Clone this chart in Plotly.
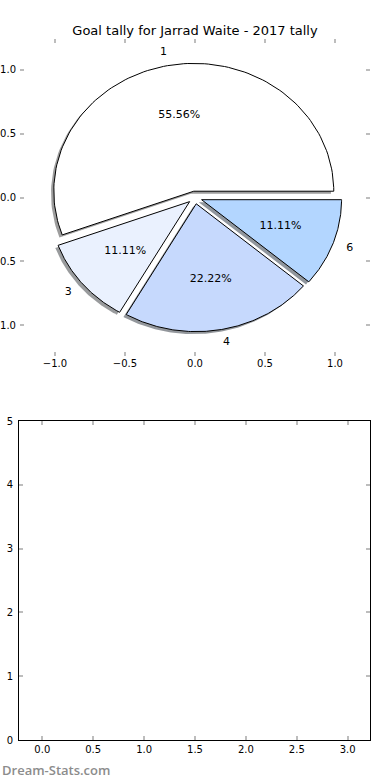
import numpy as np
import plotly.graph_objects as go

# ---------------- data ----------------
title_text = "Goal tally for Jarrad Waite - 2017 tally"
labels = ["1", "3", "4", "6"]
values = [5, 1, 2, 1]
colors = ["#FFFFFF", "#EAF1FE", "#C6D9FD", "#B3D6FF"]
explode = [0.05, 0.05, 0.05, 0.05]
pie_ticks = [-1.0, -0.5, 0.0, 0.5, 1.0]
bottom_x_ticks = [0.0, 0.5, 1.0, 1.5, 2.0, 2.5, 3.0]
bottom_y_ticks = [0, 1, 2, 3, 4, 5]
watermark = "Dream-Stats.com"

W, H = 390, 780
FONT = "DejaVu Sans"


def hex_to_rgb(h):
    h = h.lstrip("#")
    return tuple(int(h[i:i + 2], 16) for i in (0, 2, 4))


total = float(sum(values))
wedges = []
theta1 = 0.0
for lab, v, col, ex in zip(labels, values, colors, explode):
    theta2 = theta1 + 360.0 * v / total
    mid = np.deg2rad((theta1 + theta2) / 2.0)
    cx, cy = ex * np.cos(mid), ex * np.sin(mid)
    arc = np.deg2rad(np.linspace(theta1, theta2, 120))
    xs = np.concatenate([[cx], cx + np.cos(arc), [cx]])
    ys = np.concatenate([[cy], cy + np.sin(arc), [cy]])
    wedges.append(dict(label=lab, value=v, color=col, xs=xs, ys=ys,
                       cx=cx, cy=cy, mid=mid))
    theta1 = theta2

fig = go.Figure()

# shadows (drawn beneath all wedges)
for w in wedges:
    r, g, b = hex_to_rgb(w["color"])
    sc = f"rgba({int(r*0.3)},{int(g*0.3)},{int(b*0.3)},0.55)"
    fig.add_trace(go.Scatter(
        x=w["xs"] - 0.02, y=w["ys"] - 0.02, mode="lines", fill="toself",
        fillcolor=sc, line=dict(width=0, color=sc), hoverinfo="skip",
        showlegend=False, xaxis="x", yaxis="y"))

# wedges
for w in wedges:
    fig.add_trace(go.Scatter(
        x=w["xs"], y=w["ys"], mode="lines", fill="toself",
        fillcolor=w["color"], line=dict(width=1, color="black"),
        hoverinfo="skip", showlegend=False, xaxis="x", yaxis="y"))

# labels (at 1.1 radius) and percentages (at 0.6 radius)
for w in wedges:
    lx = w["cx"] + 1.1 * np.cos(w["mid"])
    ly = w["cy"] + 1.1 * np.sin(w["mid"])
    pos = "middle right" if lx > 0 else "middle left"
    fig.add_trace(go.Scatter(
        x=[lx], y=[ly], mode="text", text=[w["label"]], textposition=pos,
        textfont=dict(family=FONT, size=11, color="black"),
        hoverinfo="skip", showlegend=False, xaxis="x", yaxis="y"))
    px = w["cx"] + 0.6 * np.cos(w["mid"])
    py = w["cy"] + 0.6 * np.sin(w["mid"])
    fig.add_trace(go.Scatter(
        x=[px], y=[py], mode="text",
        text=[f"{w['value'] / total * 100:.2f}%"], textposition="middle center",
        textfont=dict(family=FONT, size=11, color="black"),
        hoverinfo="skip", showlegend=False, xaxis="x", yaxis="y"))

# empty second axes
fig.add_trace(go.Scatter(x=[], y=[], mode="markers", showlegend=False,
                         hoverinfo="skip", xaxis="x2", yaxis="y2"))

tick_common = dict(ticks="inside", ticklen=4, tickwidth=1.5, tickcolor="#bdbdbd",
                   showgrid=False, zeroline=False, automargin=False,
                   tickfont=dict(family=FONT, size=10, color="black"))

fig.update_layout(
    width=W, height=H,
    margin=dict(l=0, r=0, t=0, b=0, autoexpand=False),
    paper_bgcolor="white", plot_bgcolor="white",
    showlegend=False,
    title=dict(text=title_text, x=195 / W, xanchor="center",
               y=1 - 30 / H, yanchor="middle",
               font=dict(family=FONT, size=13, color="black")),
    xaxis=dict(domain=[20 / W, 370 / W], range=[-1.25, 1.25],
               tickvals=pie_ticks, tickformat=".1f", showline=False,
               mirror="ticks", anchor="y", **tick_common),
    yaxis=dict(domain=[1 - 356 / H, 1 - 39 / H], range=[-1.24, 1.24],
               tickvals=pie_ticks, tickformat=".1f", showline=False,
               mirror="ticks", anchor="x", ticklabelstandoff=3,
               **tick_common),
    xaxis2=dict(domain=[19 / W, 370 / W], range=[-0.229, 3.219],
                tickvals=bottom_x_ticks, tickformat=".1f", showline=True,
                linecolor="black", linewidth=1, mirror="ticks", anchor="y2",
                **tick_common),
    yaxis2=dict(domain=[1 - 740 / H, 1 - 421 / H], range=[0, 5],
                tickvals=bottom_y_ticks, tickformat="d", showline=True,
                linecolor="black", linewidth=1, mirror="ticks", anchor="x2",
                ticklabelstandoff=3, **tick_common),
    annotations=[dict(text=watermark, xref="paper", yref="paper",
                      x=0, y=1 - 770 / H, xanchor="left", yanchor="middle",
                      showarrow=False,
                      font=dict(family="Open Sans", size=13, color="#8c8c8c",
                                weight=600))],
)

fig.write_html("out.html", config={"displayModeBar": False},
               post_script="document.body.style.margin='0px';")
